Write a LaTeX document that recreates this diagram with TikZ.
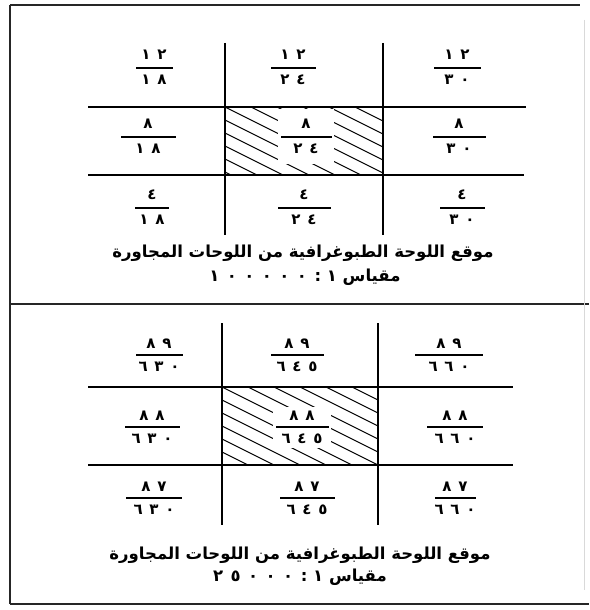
\documentclass[tikz,border=0pt]{standalone}
\usepackage{fontspec}
\usepackage{tikz}
\usetikzlibrary{positioning, fit, backgrounds}
\TeXXeTstate=1
\newfontfamily\arabicfont[Script=Arabic]{DejaVu Sans}
\newfontfamily\digitfont[LetterSpace=45]{DejaVu Sans}

\begin{document}
\begin{tikzpicture}[
    x=1pt, y=-1pt,
    frame/.style={line width=1.3pt, black!85},
    grid/.style={line width=1.2pt},
    hatch/.style={line width=1.1pt},
    fracbar/.style={fill=black, inner sep=0pt, minimum height=1.6pt},
    numtxt/.style={font=\digitfont\bfseries\fontsize{15}{15}\selectfont,
                   inner sep=0pt},
    caption/.style={font=\arabicfont\bfseries\fontsize{16.5}{18}\selectfont,
                    inner sep=0pt},
    blank/.style={fill=white, inner xsep=2pt},
]
\useasboundingbox (0,0) rectangle (589,610);

% ── Outer frame and panel divider ────────────────────────────────────────
\draw[frame] (10,5) -- (580,5);
\draw[frame] (10,5) -- (10,604);
\draw[frame] (10,304) -- (589,304);
\draw[frame] (10,604) -- (589,604);
\draw[line width=0.8pt, black!15] (584,20) -- (584,590);

% ── Top panel: grid of sheets ────────────────────────────────────────────
\draw[grid] (225,43) -- (225,235);
\draw[grid] (383,43) -- (383,235);
\draw[grid] (88,107) -- (526,107);
\draw[grid] (88,175) -- (524,175);

\foreach \k/\x/\y/\w/\num/\den in {
    a11/154/68/37/١٢/١٨, a12/293/68/45/١٢/٢٤, a13/457/68/47/١٢/٣٠,
    a21/148/137/55/٨/١٨, a22/306/137/51/٨/٢٤, a23/459/137/53/٨/٣٠,
    a31/152/208/34/٤/١٨, a32/304/208/53/٤/٢٤, a33/462/208/45/٤/٣٠} {
    \node[fracbar, minimum width=\w pt] (\k) at (\x,\y) {};
    \node[numtxt, above=7pt of \k] (\k n) {\num};
    \node[numtxt, below=6pt of \k] (\k d) {\den};
}

\begin{scope}[on background layer]
    \begin{scope}
        \clip (225,107) rectangle (383,175);
        \foreach \s in {-7,...,6} { \draw[hatch] (225,107+\s*13) -- ++(200,100); }
    \end{scope}
    \node[blank, inner ysep=10pt, fit=(a22n)(a22)(a22d)] (a22w) {};
\end{scope}

\node[caption] (capA) at (303,253)
    {\beginR موقع اللوحة الطبوغرافية من اللوحات المجاورة\endR};
\node[caption] (scaleA) at (305,277)
    {\beginR مقياس {\digitfont ١} : {\digitfont\beginL ١٠٠٠٠٠\endL}\endR};

% ── Bottom panel: grid of sheets ─────────────────────────────────────────
\draw[grid] (222,323) -- (222,525);
\draw[grid] (378,323) -- (378,525);
\draw[grid] (88,387) -- (513,387);
\draw[grid] (88,465) -- (513,465);

\foreach \k/\x/\y/\w/\num/\den in {
    b11/159/355/47/٨٩/٦٣٠, b12/297/355/53/٨٩/٦٤٥, b13/449/355/68/٨٩/٦٦٠,
    b21/152/427/55/٨٨/٦٣٠, b22/302/427/53/٨٨/٦٤٥, b23/455/427/56/٨٨/٦٦٠,
    b31/154/498/56/٨٧/٦٣٠, b32/307/498/55/٨٧/٦٤٥, b33/455/498/41/٨٧/٦٦٠} {
    \node[fracbar, minimum width=\w pt] (\k) at (\x,\y) {};
    \node[numtxt, above=5pt of \k] (\k n) {\num};
    \node[numtxt, below=6pt of \k] (\k d) {\den};
}

\begin{scope}[on background layer]
    \begin{scope}
        \clip (222,387) rectangle (378,465);
        \foreach \s in {-7,...,6} { \draw[hatch] (222,387+\s*13) -- ++(200,100); }
    \end{scope}
    \node[blank, inner ysep=4pt, fit=(b22n)(b22)(b22d)] (b22w) {};
\end{scope}

\node[caption] (capB) at (300,555)
    {\beginR موقع اللوحة الطبوغرافية من اللوحات المجاورة\endR};
\node[caption] (scaleB) at (300,577)
    {\beginR مقياس {\digitfont ١} : {\digitfont\beginL ٢٥٠٠٠\endL}\endR};

\end{tikzpicture}
\end{document}
